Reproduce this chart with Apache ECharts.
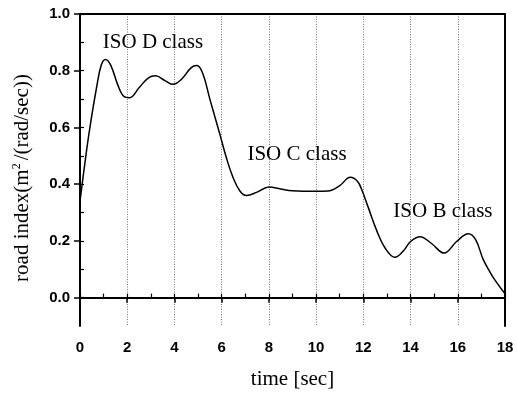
<!DOCTYPE html>
<html>
<head>
<meta charset="utf-8">
<script src="https://cdn.jsdelivr.net/npm/echarts@6/dist/echarts.min.js"></script>
<style>
  html, body { margin: 0; padding: 0; background: #fff; }
  #chart { width: 517px; height: 395px; }
</style>
</head>
<body>
<div id="chart"></div>
<script>
// Road index over time, sampled along the measured curve
const timeSec = [0, 0.2, 0.42, 0.7, 0.9, 1.08, 1.3, 1.6, 1.85, 2.1, 2.5, 2.9, 3.2, 3.6, 3.95,
  4.3, 4.7, 4.95, 5.2, 5.5, 5.93, 6.2, 6.48, 6.78, 7.05, 7.5, 8.0, 8.5, 9.0, 10.0, 10.5,
  11.0, 11.45, 11.75, 11.95, 12.2, 12.56, 12.92, 13.34, 13.7, 14.0, 14.4, 14.9, 15.42,
  15.95, 16.45, 16.75, 17.08, 17.4, 17.65, 18.0];
const roadIndex = [0.34, 0.47, 0.60, 0.74, 0.82, 0.84, 0.82, 0.75, 0.71, 0.705, 0.74, 0.775,
  0.782, 0.765, 0.752, 0.77, 0.81, 0.818, 0.79, 0.70, 0.574, 0.493, 0.424, 0.375, 0.36,
  0.372, 0.39, 0.383, 0.377, 0.375, 0.376, 0.395, 0.424, 0.41, 0.377, 0.32, 0.238, 0.175,
  0.142, 0.165, 0.198, 0.215, 0.19, 0.157, 0.198, 0.225, 0.205, 0.134, 0.085, 0.053, 0.014];

// Road class annotations: label, time, road index
const classNames = ['ISO D class', 'ISO C class', 'ISO B class'];
const classTime = [3.09, 9.19, 15.37];
const classLevel = [0.90, 0.503, 0.302];

// Axis ticks
const xTicks = [0, 2, 4, 6, 8, 10, 12, 14, 16, 18];
const yTicks = [0.0, 0.2, 0.4, 0.6, 0.8, 1.0];
const yMinorTicks = [0.0, 0.1, 0.2, 0.3, 0.4, 0.5, 0.6, 0.7, 0.8, 0.9, 1.0];

const serif = '"Liberation Serif", "Times New Roman", serif';
const sans = '"Liberation Sans", Arial, sans-serif';

const chart = echarts.init(document.getElementById('chart'), null, { renderer: 'canvas' });

const lineData = timeSec.map((t, i) => [t, roadIndex[i]]);
const notes = classNames.map((n, i) => ({
  name: n, coord: [classTime[i], classLevel[i]]
}));

chart.setOption({
  animation: false,
  backgroundColor: '#fff',
  grid: { left: 80, right: 12, top: 14, bottom: 64, containLabel: false },
  xAxis: [
    {
      type: 'value', min: 0, max: 18, interval: 2, position: 'bottom',
      axisLine: { show: true, lineStyle: { color: '#000', width: 2 } },
      axisTick: { show: true, inside: false, length: 5, customValues: xTicks, lineStyle: { color: '#000', width: 1.5 } },
      axisLabel: { show: true, margin: 14, customValues: xTicks, color: '#000', fontFamily: sans, fontWeight: 'bold', fontSize: 15 },
      splitLine: { show: true, lineStyle: { color: '#777', type: [1, 1.5], width: 1 } },
      name: 'time [sec]', nameLocation: 'middle', nameGap: 43,
      nameTextStyle: { fontFamily: serif, fontSize: 21, color: '#000' }
    },
    {
      type: 'value', min: 0, max: 18, interval: 1, position: 'bottom',
      axisLine: { show: false },
      axisTick: { show: true, inside: true, length: 4, lineStyle: { color: '#000', width: 1.2 } },
      axisLabel: { show: false },
      splitLine: { show: false }
    },
    {
      type: 'value', min: 0, max: 18, position: 'top',
      axisLine: { show: true, onZero: false, lineStyle: { color: '#000', width: 2 } },
      axisTick: { show: false }, axisLabel: { show: false }, splitLine: { show: false }
    }
  ],
  yAxis: [
    {
      type: 'value', min: -0.1, max: 1.0, position: 'left',
      axisLine: { show: true, onZero: false, lineStyle: { color: '#000', width: 2 } },
      axisTick: { show: true, inside: false, length: 6, customValues: yTicks, lineStyle: { color: '#000', width: 1.5 } },
      axisLabel: {
        show: true, margin: 10, customValues: yTicks, color: '#000',
        fontFamily: sans, fontWeight: 'bold', fontSize: 15,
        formatter: v => v.toFixed(1)
      },
      splitLine: { show: false },
      name: 'road index(m{sup|2}/(rad/sec))', nameLocation: 'middle', nameGap: 47, nameRotate: 90,
      nameTextStyle: {
        fontFamily: serif, fontSize: 21, color: '#000', padding: [0, 16, 0, 0],
        rich: { sup: { fontFamily: serif, fontSize: 12, color: '#000', verticalAlign: 'top', padding: [0, 3, 10, 0] } }
      }
    },
    {
      type: 'value', min: -0.1, max: 1.0, position: 'left',
      axisLine: { show: false },
      axisTick: { show: true, inside: true, length: 4, customValues: yMinorTicks, lineStyle: { color: '#000', width: 1.2 } },
      axisLabel: { show: false }, splitLine: { show: false }
    },
    {
      type: 'value', min: -0.1, max: 1.0, position: 'right',
      axisLine: { show: true, onZero: false, lineStyle: { color: '#000', width: 2 } },
      axisTick: { show: false }, axisLabel: { show: false }, splitLine: { show: false }
    }
  ],
  series: [
    {
      type: 'line', xAxisIndex: 0, yAxisIndex: 0,
      data: lineData, smooth: 0.4, showSymbol: false, symbol: 'none',
      lineStyle: { color: '#000', width: 1.5 },
      markPoint: {
        symbol: 'circle', symbolSize: 0, silent: true,
        label: {
          show: true, position: 'inside', formatter: '{b}',
          fontFamily: serif, fontSize: 21, color: '#000'
        },
        data: notes
      }
    }
  ]
});
</script>
</body>
</html>
